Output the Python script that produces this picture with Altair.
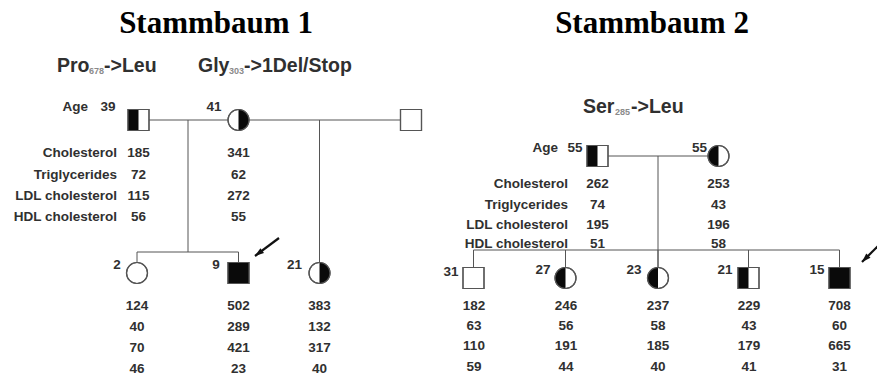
import altair as alt
import pandas as pd

W, H = 877, 376

# ---------------- values ----------------
TITLES = ["Stammbaum 1", "Stammbaum 2"]
ROW_LABELS = ["Cholesterol", "Triglycerides", "LDL cholesterol", "HDL cholesterol"]
AGE_LABEL = "Age"

# Pedigree 1
P1_MUT_MAIN = ["Pro", "Gly"]
P1_MUT_SUB = ["678", "303"]
P1_MUT_TAIL = ["->Leu", "->1Del/Stop"]
P1_PARENT_AGES = ["39", "41", ""]
P1_PARENT_SEX = ["m", "f", "m"]
P1_PARENT_STATUS = ["left", "right", "none"]
P1_PARENT_VALUES = [[185, 72, 115, 56], [341, 62, 272, 55]]
P1_CHILD_AGES = ["2", "9", "21"]
P1_CHILD_SEX = ["f", "m", "f"]
P1_CHILD_STATUS = ["none", "full", "right"]
P1_CHILD_VALUES = [[124, 40, 70, 46], [502, 289, 421, 23], [383, 132, 317, 40]]

# Pedigree 2
P2_MUT_MAIN = ["Ser"]
P2_MUT_SUB = ["285"]
P2_MUT_TAIL = ["->Leu"]
P2_PARENT_AGES = ["55", "55"]
P2_PARENT_SEX = ["m", "f"]
P2_PARENT_STATUS = ["left", "left"]
P2_PARENT_VALUES = [[262, 74, 195, 51], [253, 43, 196, 58]]
P2_CHILD_AGES = ["31", "27", "23", "21", "15"]
P2_CHILD_SEX = ["m", "f", "f", "m", "m"]
P2_CHILD_STATUS = ["none", "left", "left", "left", "full"]
P2_CHILD_VALUES = [[182, 63, 110, 59], [246, 56, 191, 44], [237, 58, 185, 40],
                   [229, 43, 179, 41], [708, 60, 665, 31]]

# ---------------- layout (pixel positions) ----------------
TITLE_X = [216, 652]
TITLE_Y = 33

L1_MUT_X = [(57, 89, 104), (198, 229, 244)]
L1_MUT_Y = 66
L1_PARENT_X = [138.5, 238.5, 411]
L1_PARENT_Y = 120
L1_CHILD_X = [137, 238.5, 319.5]
L1_CHILD_Y = 273
L1_SIB_Y = 252
L1_DESCENT_X = 188
L1_ROW_Y = [153, 175, 196, 217]
L1_CHILD_ROW_Y = [306, 327, 348, 369]
L1_LABEL_X = 117
L1_AGE_LABEL_X = 88
L1_AGE_Y = 107
L1_PARENT_AGE_X = [108, 214]
L1_CHILD_AGE_X = [117, 216, 294.5]
L1_CHILD_AGE_Y = 265

L2_MUT_X = [(583, 615, 631)]
L2_MUT_Y = 107
L2_PARENT_X = [597.5, 718.5]
L2_PARENT_Y = 156
L2_CHILD_X = [473.5, 565.5, 658, 748.5, 839.5]
L2_CHILD_Y = 278
L2_SIB_Y = 250
L2_DESCENT_X = 658
L2_ROW_Y = [184, 205, 225, 244]
L2_CHILD_ROW_Y = [306, 326, 346, 367]
L2_CHILD_VAL_X = [474, 566, 658, 749, 839.5]
L2_LABEL_X = 568
L2_AGE_LABEL_X = 558
L2_AGE_Y = 148
L2_PARENT_AGE_X = [575, 699.5]
L2_CHILD_AGE_X = [451, 543, 634, 725, 817]
L2_CHILD_AGE_Y = [272, 270, 270, 270, 270]

ARROWS = [(279, 238, 255, 256, 233), (881, 243, 862, 262, 225)]

SYMBOL_SIZE = 441
INK = "#303030"
LINE = "#555555"

OUTLINE = {"m": "square", "f": "circle"}
HALF = {
    ("m", "left"): "M-1,-1L0,-1L0,1L-1,1Z",
    ("m", "right"): "M0,-1L1,-1L1,1L0,1Z",
    ("m", "full"): "square",
    ("f", "left"): "M0,-1A1,1 0 0 0 0,1Z",
    ("f", "right"): "M0,-1A1,1 0 0 1 0,1Z",
    ("f", "full"): "circle",
}

# ---------------- build tables ----------------
people = []
for xs, y, sexes, stats in [
    (L1_PARENT_X, L1_PARENT_Y, P1_PARENT_SEX, P1_PARENT_STATUS),
    (L1_CHILD_X, L1_CHILD_Y, P1_CHILD_SEX, P1_CHILD_STATUS),
    (L2_PARENT_X, L2_PARENT_Y, P2_PARENT_SEX, P2_PARENT_STATUS),
    (L2_CHILD_X, L2_CHILD_Y, P2_CHILD_SEX, P2_CHILD_STATUS),
]:
    for x, s, st in zip(xs, sexes, stats):
        people.append({"x": x, "y": y, "outline": OUTLINE[s],
                       "fill": HALF.get((s, st), "")})
people = pd.DataFrame(people)
filled = people[people["fill"] != ""]

segs = []
# pedigree 1
segs.append((L1_PARENT_X[0], L1_PARENT_Y, L1_PARENT_X[1], L1_PARENT_Y))
segs.append((L1_PARENT_X[1], L1_PARENT_Y, L1_PARENT_X[2], L1_PARENT_Y))
segs.append((L1_DESCENT_X, L1_PARENT_Y, L1_DESCENT_X, L1_SIB_Y))
segs.append((L1_CHILD_X[0], L1_SIB_Y, L1_CHILD_X[1], L1_SIB_Y))
segs.append((L1_CHILD_X[0], L1_SIB_Y, L1_CHILD_X[0], L1_CHILD_Y))
segs.append((L1_CHILD_X[1], L1_SIB_Y, L1_CHILD_X[1], L1_CHILD_Y))
segs.append((L1_CHILD_X[2], L1_PARENT_Y, L1_CHILD_X[2], L1_CHILD_Y))
# pedigree 2
segs.append((L2_PARENT_X[0], L2_PARENT_Y, L2_PARENT_X[1], L2_PARENT_Y))
segs.append((L2_DESCENT_X, L2_PARENT_Y, L2_DESCENT_X, L2_CHILD_Y))
segs.append((L2_CHILD_X[0], L2_SIB_Y, L2_CHILD_X[-1], L2_SIB_Y))
for cx in L2_CHILD_X:
    segs.append((cx, L2_SIB_Y, cx, L2_CHILD_Y))
segs = pd.DataFrame(segs, columns=["x", "y", "x2", "y2"])

arrows = pd.DataFrame(ARROWS, columns=["x", "y", "x2", "y2", "angle"])

center_txt, right_txt, sub_txt, mut_txt, title_txt = [], [], [], [], []

for t, x in zip(TITLES, TITLE_X):
    title_txt.append({"x": x, "y": TITLE_Y, "t": t})

for (mx, sx, tx), a, b, c in zip(L1_MUT_X, P1_MUT_MAIN, P1_MUT_SUB, P1_MUT_TAIL):
    mut_txt.append({"x": mx, "y": L1_MUT_Y, "t": a})
    mut_txt.append({"x": tx, "y": L1_MUT_Y, "t": c})
    sub_txt.append({"x": sx, "y": L1_MUT_Y + 5, "t": b})
for (mx, sx, tx), a, b, c in zip(L2_MUT_X, P2_MUT_MAIN, P2_MUT_SUB, P2_MUT_TAIL):
    mut_txt.append({"x": mx, "y": L2_MUT_Y, "t": a})
    mut_txt.append({"x": tx, "y": L2_MUT_Y, "t": c})
    sub_txt.append({"x": sx, "y": L2_MUT_Y + 5, "t": b})

right_txt.append({"x": L1_AGE_LABEL_X, "y": L1_AGE_Y, "t": AGE_LABEL})
right_txt.append({"x": L2_AGE_LABEL_X, "y": L2_AGE_Y, "t": AGE_LABEL})
for lab, y in zip(ROW_LABELS, L1_ROW_Y):
    right_txt.append({"x": L1_LABEL_X, "y": y, "t": lab})
for lab, y in zip(ROW_LABELS, L2_ROW_Y):
    right_txt.append({"x": L2_LABEL_X, "y": y, "t": lab})

for a, x in zip(P1_PARENT_AGES, L1_PARENT_AGE_X):
    center_txt.append({"x": x, "y": L1_AGE_Y, "t": a})
for a, x in zip(P2_PARENT_AGES, L2_PARENT_AGE_X):
    center_txt.append({"x": x, "y": L2_AGE_Y, "t": a})
for a, x in zip(P1_CHILD_AGES, L1_CHILD_AGE_X):
    center_txt.append({"x": x, "y": L1_CHILD_AGE_Y, "t": a})
for a, x, y in zip(P2_CHILD_AGES, L2_CHILD_AGE_X, L2_CHILD_AGE_Y):
    center_txt.append({"x": x, "y": y, "t": a})

for vals, x in zip(P1_PARENT_VALUES, L1_PARENT_X):
    for v, y in zip(vals, L1_ROW_Y):
        center_txt.append({"x": x, "y": y, "t": str(v)})
for vals, x in zip(P2_PARENT_VALUES, L2_PARENT_X):
    for v, y in zip(vals, L2_ROW_Y):
        center_txt.append({"x": x, "y": y, "t": str(v)})
for vals, x in zip(P1_CHILD_VALUES, L1_CHILD_X):
    for v, y in zip(vals, L1_CHILD_ROW_Y):
        center_txt.append({"x": x, "y": y, "t": str(v)})
for vals, x in zip(P2_CHILD_VALUES, L2_CHILD_VAL_X):
    for v, y in zip(vals, L2_CHILD_ROW_Y):
        center_txt.append({"x": x, "y": y, "t": str(v)})

# ---------------- chart ----------------
XS = alt.Scale(domain=[0, W], range=[0, W])
YS = alt.Scale(domain=[0, H], range=[0, H])


def X(f="x"):
    return alt.X(f"{f}:Q", scale=XS, axis=None)


def Y(f="y"):
    return alt.Y(f"{f}:Q", scale=YS, axis=None)


lines = alt.Chart(segs).mark_rule(color=LINE, strokeWidth=1).encode(
    x=X(), y=Y(), x2="x2:Q", y2="y2:Q")

base_sym = alt.Chart(people).mark_point(
    filled=True, fill="white", stroke=LINE, strokeWidth=1.2, opacity=1,
    size=SYMBOL_SIZE).encode(x=X(), y=Y(), shape=alt.Shape("outline:N", scale=None))

fill_sym = alt.Chart(filled).mark_point(
    filled=True, fill="#0a0a0a", strokeWidth=0, opacity=1,
    size=SYMBOL_SIZE).encode(x=X(), y=Y(), shape=alt.Shape("fill:N", scale=None))

edge_sym = alt.Chart(people).mark_point(
    filled=False, fill="transparent", stroke=LINE,
    strokeWidth=1.2, opacity=1, size=SYMBOL_SIZE).encode(
    x=X(), y=Y(), shape=alt.Shape("outline:N", scale=None))

arrow_shaft = alt.Chart(arrows).mark_rule(color="#111111", strokeWidth=2.2).encode(
    x=X(), y=Y(), x2="x2:Q", y2="y2:Q")
arrow_head = alt.Chart(arrows).mark_point(
    filled=True, fill="#111111", strokeWidth=0, opacity=1, size=100,
    shape="M0,0L0.6,1.8L-0.6,1.8Z").encode(
    x=X("x2"), y=Y("y2"), angle=alt.Angle("angle:Q", scale=None))

FONT = "Liberation Sans"

t_center = alt.Chart(pd.DataFrame(center_txt)).mark_text(
    font=FONT, fontSize=13.5, fontWeight="bold", color=INK, align="center",
    baseline="middle").encode(x=X(), y=Y(), text="t:N")
t_right = alt.Chart(pd.DataFrame(right_txt)).mark_text(
    font=FONT, fontSize=13.5, fontWeight="bold", color=INK, align="right",
    baseline="middle").encode(x=X(), y=Y(), text="t:N")
t_mut = alt.Chart(pd.DataFrame(mut_txt)).mark_text(
    font=FONT, fontSize=19.5, fontWeight="bold", color=INK, align="left",
    baseline="middle").encode(x=X(), y=Y(), text="t:N")
t_sub = alt.Chart(pd.DataFrame(sub_txt)).mark_text(
    font=FONT, fontSize=9, fontWeight="bold", color="#8a8a8a", align="left",
    baseline="middle").encode(x=X(), y=Y(), text="t:N")
t_title = alt.Chart(pd.DataFrame(title_txt)).mark_text(
    font="Liberation Serif", fontSize=31, fontWeight="bold", color="black",
    align="center", baseline="alphabetic").encode(x=X(), y=Y(), text="t:N")

chart = alt.layer(
    lines, base_sym, fill_sym, edge_sym, arrow_shaft, arrow_head,
    t_center, t_right, t_mut, t_sub, t_title
).properties(
    width=W, height=H, autosize=alt.AutoSizeParams(type="none"), padding=0,
    background="white"
).configure_view(stroke=None)

chart.save("out.html", embed_options={"renderer": "svg", "actions": False})
